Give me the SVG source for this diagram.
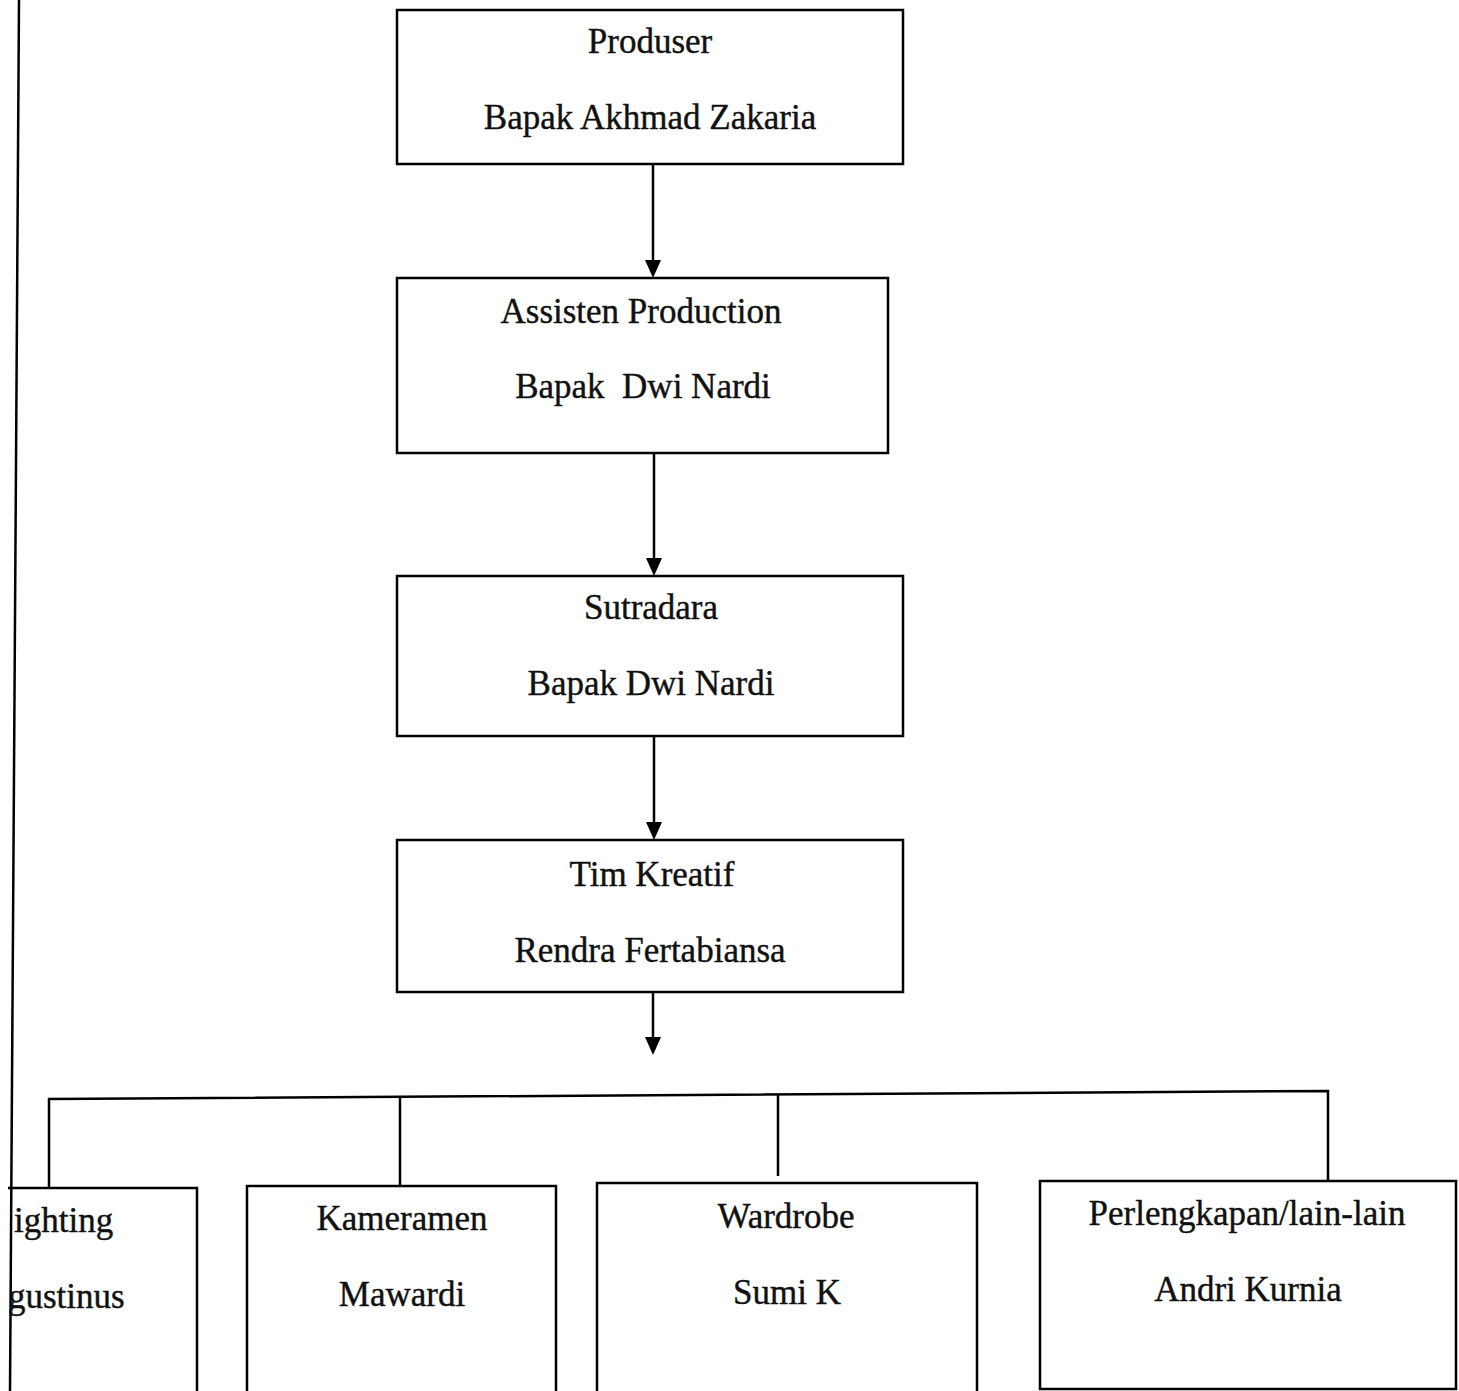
<svg xmlns="http://www.w3.org/2000/svg" width="1459" height="1391" viewBox="0 0 1459 1391">
<defs>
<style>
.box{fill:#fff;stroke:#000;stroke-width:2.5}
.t{font-family:"Liberation Serif","Times New Roman",serif;font-size:35px;fill:#111;text-anchor:middle;stroke:#111;stroke-width:0.4}
.tl{font-family:"Liberation Serif","Times New Roman",serif;font-size:35px;fill:#111;stroke:#111;stroke-width:0.4}
.ln{stroke:#000;stroke-width:2.5;fill:none}
.ah{fill:#000}
</style>
</defs>
<rect width="1459" height="1391" fill="#fff"/>
<line class="ln" x1="19" y1="0" x2="10" y2="1391"/>
<g id="connectors">
<line class="ln" x1="653" y1="164" x2="653" y2="262"/>
<path class="ah" d="M645,260 L661,260 L653,278 Z"/>
<line class="ln" x1="654" y1="453" x2="654" y2="560"/>
<path class="ah" d="M646,558 L662,558 L654,576 Z"/>
<line class="ln" x1="654" y1="736" x2="654" y2="824"/>
<path class="ah" d="M646,822 L662,822 L654,840 Z"/>
<line class="ln" x1="653" y1="992" x2="653" y2="1040"/>
<path class="ah" d="M645,1037 L661,1037 L653,1055 Z"/>
<polyline class="ln" points="49,1188 49,1099 1328,1091 1328,1180"/>
<line class="ln" x1="400" y1="1097" x2="400" y2="1186"/>
<line class="ln" x1="778" y1="1095" x2="778" y2="1176"/>
</g>
<g id="produser">
<rect class="box" x="397" y="10" width="506" height="154"/>
<text class="t" x="650" y="53">Produser</text>
<text class="t" x="650" y="129">Bapak Akhmad Zakaria</text>
</g>
<g id="assisten">
<rect class="box" x="397" y="278" width="491" height="175"/>
<text class="t" x="641" y="323">Assisten Production</text>
<text class="t" x="643" y="398" xml:space="preserve">Bapak  Dwi Nardi</text>
</g>
<g id="sutradara">
<rect class="box" x="397" y="576" width="506" height="160"/>
<text class="t" x="651" y="619">Sutradara</text>
<text class="t" x="651" y="695">Bapak Dwi Nardi</text>
</g>
<g id="timkreatif">
<rect class="box" x="397" y="840" width="506" height="152"/>
<text class="t" x="652" y="886">Tim Kreatif</text>
<text class="t" x="650" y="962">Rendra Fertabiansa</text>
</g>
<g id="lighting">
<path class="ln" d="M8,1188 L197,1188 L197,1395"/>
<text class="tl" x="14" y="1232">ighting</text>
<text class="tl" x="8" y="1308">gustinus</text>
</g>
<g id="kameramen">
<rect class="box" x="247" y="1186" width="309" height="215"/>
<text class="t" x="402" y="1230">Kameramen</text>
<text class="t" x="402" y="1306">Mawardi</text>
</g>
<g id="wardrobe">
<rect class="box" x="597" y="1183" width="380" height="218"/>
<text class="t" x="786" y="1228">Wardrobe</text>
<text class="t" x="787" y="1304">Sumi K</text>
</g>
<g id="perlengkapan">
<rect class="box" x="1040" y="1181" width="416" height="208"/>
<text class="t" x="1247" y="1225">Perlengkapan/lain-lain</text>
<text class="t" x="1248" y="1301">Andri Kurnia</text>
</g>
</svg>
